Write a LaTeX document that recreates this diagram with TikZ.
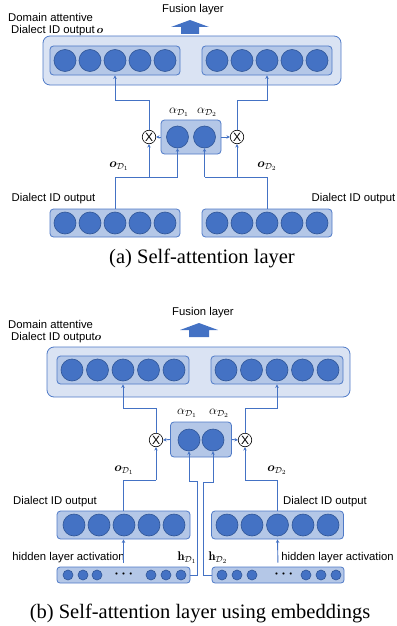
\RequirePackage{fix-cm}
\documentclass[tikz,border=0pt]{standalone}
\usepackage{amsmath,bm}
\usepackage{fontspec}
\newfontfamily\labfont{Liberation Sans}
\newfontfamily\capfont{Liberation Serif}
\usetikzlibrary{arrows.meta,calc}
\definecolor{neufill}{HTML}{4472C4}
\definecolor{neuline}{HTML}{2F5597}
\definecolor{infill}{HTML}{B4C7E7}
\definecolor{outfill}{HTML}{DAE3F3}
\definecolor{lncol}{HTML}{4472C4}
\definecolor{boxline}{HTML}{4F7AC7}
\tikzset{
  outerbox/.style={draw=boxline, fill=outfill, rounded corners=7pt, line width=0.8pt, inner sep=0pt},
  innerbox/.style={draw=boxline, fill=infill, rounded corners=3.5pt, line width=0.8pt, inner sep=0pt},
  neuron/.style={circle, draw=neuline, fill=neufill, line width=0.6pt, minimum size=22pt, inner sep=0pt},
  smallneuron/.style={neuron, minimum size=10pt},
  mult/.style={circle, draw=black, fill=white, line width=0.6pt, minimum size=13.5pt, inner sep=0pt, font=\labfont\fontsize{12}{12}\selectfont},
  conn/.style={draw=lncol, line width=0.9pt},
  arr/.style={-{Stealth[length=3.5pt,width=3.5pt]}},
  lab/.style={font=\labfont\fontsize{11.3}{13}\selectfont, inner sep=0pt},
  mlab/.style={font=\fontsize{12.5}{14}\selectfont, inner sep=0pt},
  dotlab/.style={font=\fontsize{14}{14}\selectfont, inner sep=0pt},
  captext/.style={font=\capfont\fontsize{20.5}{24}\selectfont, inner sep=0pt},
}
\begin{document}
\begin{tikzpicture}[x=1pt,y=-1pt]
\useasboundingbox (0,0) rectangle (396,626);
%%%%%%%%%%%%%%%% (a)
\node[lab] (aFus) at (193,10) {Fusion layer};
\fill[neufill] (181,34) -- (181,27) -- (171,27) -- (190,20) -- (209,27) -- (199,27) -- (199,34) -- cycle;
\node[lab, anchor=west] (aDom1) at (8,17) {Domain attentive};
\node[lab, anchor=west] (aDom2) at (11,30.5) {Dialect ID output\,$\bm{o}$};
\node[outerbox, minimum width=298pt, minimum height=49pt] (aOut) at (192,60.5) {};
\node[innerbox, minimum width=130pt, minimum height=29pt] (aTopL) at (115,60.5) {};
\node[innerbox, minimum width=130pt, minimum height=29pt] (aTopR) at (267,60.5) {};
\foreach \i/\x in {1/65,2/90,3/115,4/140,5/165} \node[neuron] (aTL\i) at (\x,60.5) {};
\foreach \i/\x in {1/217,2/242,3/267,4/292,5/317} \node[neuron] (aTR\i) at (\x,60.5) {};
% attention
\node[innerbox, minimum width=60pt, minimum height=34pt] (aAtt) at (191,137) {};
\node[neuron] (aA1) at (177.5,137) {};
\node[neuron] (aA2) at (204.5,137) {};
\node[mlab] (aal1) at (179,112) {$\alpha_{\mathcal{D}_1}$};
\node[mlab] (aal2) at (207,112) {$\alpha_{\mathcal{D}_2}$};
\node[mult] (aXl) at (149,137) {X};
\node[mult] (aXr) at (237,137) {X};
\draw[conn,arr] (aAtt.west) -- (aXl.east);
\draw[conn,arr] (aAtt.east) -- (aXr.west);
\draw[conn,arr] (aXl.north) -- (aXl.north |- 0,100) -| (aTopL.south);
\draw[conn,arr] (aXr.north) -- (aXr.north |- 0,100) -| (aTopR.south);
% lower
\node[innerbox, minimum width=130pt, minimum height=28pt] (aBotL) at (115,223) {};
\node[innerbox, minimum width=130pt, minimum height=28pt] (aBotR) at (267,223) {};
\foreach \i/\x in {1/65,2/90,3/115,4/140,5/165} \node[neuron] (aBL\i) at (\x,223) {};
\foreach \i/\x in {1/217,2/242,3/267,4/292,5/317} \node[neuron] (aBR\i) at (\x,223) {};
\node[lab] (aDL) at (53.5,199) {Dialect ID output};
\node[lab] (aDR) at (353.5,199) {Dialect ID output};
\draw[conn] (aBotL.north) |- (aA1.south |- 0,177);
\draw[conn,arr] (aA1.south |- 0,177) -- (aA1.south);
\draw[conn,arr] (aXl.south |- 0,177) -- (aXl.south);
\draw[conn] (aBotR.north) |- (aA2.south |- 0,177);
\draw[conn,arr] (aA2.south |- 0,177) -- (aA2.south);
\draw[conn,arr] (aXr.south |- 0,177) -- (aXr.south);
\node[mlab] (aoL) at (119,166) {$\bm{o}_{\mathcal{D}_1}$};
\node[mlab] (aoR) at (267,166) {$\bm{o}_{\mathcal{D}_2}$};
\node[captext] (aCap) at (202,258) {(a) Self-attention layer};
%%%%%%%%%%%%%%%% (b)
\node[lab] (bFus) at (203,313) {Fusion layer};
\fill[neufill] (189,337) -- (189,330) -- (180,330) -- (199,323) -- (218,330) -- (209,330) -- (209,337) -- cycle;
\node[lab, anchor=west] (bDom1) at (8,324) {Domain attentive};
\node[lab, anchor=west] (bDom2) at (11,338) {Dialect ID output$\bm{o}$};
\node[outerbox, minimum width=303pt, minimum height=50pt] (bOut) at (198.5,372) {};
\node[innerbox, minimum width=132pt, minimum height=28pt] (bTopL) at (123,370) {};
\node[innerbox, minimum width=132pt, minimum height=28pt] (bTopR) at (277,370) {};
\foreach \i/\x in {1/72,2/97.5,3/123,4/148.5,5/174} \node[neuron] (bTL\i) at (\x,370) {};
\foreach \i/\x in {1/226,2/251.5,3/277,4/302.5,5/328} \node[neuron] (bTR\i) at (\x,370) {};
% attention
\node[innerbox, minimum width=61pt, minimum height=35pt] (bAtt) at (201,439.5) {};
\node[neuron] (bA1) at (189,440) {};
\node[neuron] (bA2) at (213,440) {};
\node[mlab] (bal1) at (187,413) {$\alpha_{\mathcal{D}_1}$};
\node[mlab] (bal2) at (219,413) {$\alpha_{\mathcal{D}_2}$};
\node[mult] (bXl) at (156,440) {X};
\node[mult] (bXr) at (245,440) {X};
\draw[conn,arr] (bAtt.west) -- (bXl.east);
\draw[conn,arr] (bAtt.east) -- (bXr.west);
\draw[conn,arr] (bXl.north) -- (bXl.north |- 0,408) -| (bTopL.south);
\draw[conn,arr] (bXr.north) -- (bXr.north |- 0,408) -| (bTopR.south);
% dialect ID output
\node[innerbox, minimum width=133pt, minimum height=28pt] (bBotL) at (123.5,525) {};
\node[innerbox, minimum width=132pt, minimum height=28pt] (bBotR) at (277.5,525) {};
\foreach \i/\x in {1/74,2/99,3/124,4/149,5/174} \node[neuron] (bBL\i) at (\x,525) {};
\foreach \i/\x in {1/227,2/252,3/277.5,4/303,5/328} \node[neuron] (bBR\i) at (\x,525) {};
\node[lab] (bDL) at (55,502) {Dialect ID output};
\node[lab] (bDR) at (325,502) {Dialect ID output};
\draw[conn] (bBotL.north) |- (bXl.south |- 0,480);
\draw[conn,arr] (bXl.south |- 0,480) -- (bXl.south);
\draw[conn] (bBotR.north) |- (bXr.south |- 0,480);
\draw[conn,arr] (bXr.south |- 0,480) -- (bXr.south);
\node[mlab] (boL) at (124,470) {$\bm{o}_{\mathcal{D}_1}$};
\node[mlab] (boR) at (277,470) {$\bm{o}_{\mathcal{D}_2}$};
% hidden layer
\node[innerbox, minimum width=133pt, minimum height=16pt, rounded corners=3pt] (bHidL) at (123.5,575) {};
\node[innerbox, minimum width=132pt, minimum height=16pt, rounded corners=3pt] (bHidR) at (278,575) {};
\foreach \i/\x in {1/68,2/83,3/97,4/151,5/166,6/181} \node[smallneuron] (bHL\i) at (\x,575) {};
\foreach \i/\x in {1/222,2/237,3/252,4/306,5/321,6/336} \node[smallneuron] (bHR\i) at (\x,575) {};
\node[dotlab] (bdotsL) at (125,574) {$\boldsymbol{\cdots}$};
\node[dotlab] (bdotsR) at (285,574) {$\boldsymbol{\cdots}$};
\node[lab] (bHLab) at (68.5,558) {hidden layer activation};
\node[lab] (bHRab) at (337.5,558) {hidden layer activation};
\draw[conn,arr,shorten <=4pt] (bHidL.north) -- (bBotL.south);
\draw[conn,arr,shorten <=4pt] (bHidR.north) -- (bBotR.south);
\node[mlab] (bhL) at (187,558) {$\mathbf{h}_{\mathcal{D}_1}$};
\node[mlab] (bhR) at (218,558) {$\mathbf{h}_{\mathcal{D}_2}$};
\draw[conn,arr] (bHidL.east) -- ++(7,0) |- (bA1.south |- 0,481) -- (bA1.south);
\draw[conn,arr] (bHidR.west) -- ++(-8,0) |- (bA2.south |- 0,482) -- (bA2.south);
\node[captext] (bCap) at (200,613) {(b) Self-attention layer using embeddings};
\end{tikzpicture}
\end{document}
